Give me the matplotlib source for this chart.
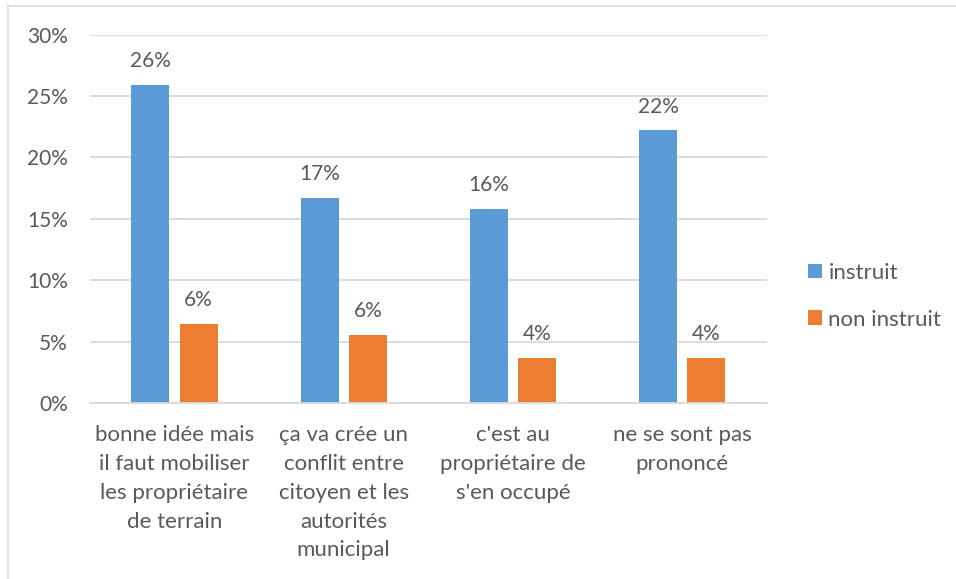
import numpy as np
import matplotlib.pyplot as plt
from matplotlib.lines import Line2D
from matplotlib.ticker import FuncFormatter

# valeurs (en %)
categories = [
    "bonne idée mais\nil faut mobiliser\nles propriétaire\nde terrain",
    "ça va crée un\nconflit entre\ncitoyen et les\nautorités\nmunicipal",
    "c'est au\npropriétaire de\ns'en occupé",
    "ne se sont pas\nprononcé",
]
instruit = [25.9, 16.7, 15.8, 22.2]
non_instruit = [6.45, 5.55, 3.7, 3.7]
labels_instruit = ["26%", "17%", "16%", "22%"]
labels_non_instruit = ["6%", "6%", "4%", "4%"]

plt.rcParams['font.family'] = ['Lato', 'DejaVu Sans']
text_color = '#595959'
blue = '#5B9BD5'
orange = '#ED7D31'
grid_color = '#D9D9D9'

fig = plt.figure(figsize=(9.56, 5.79), dpi=100)
ax = fig.add_axes([0.094, 0.304, 0.708, 0.636])

x = np.arange(len(categories))
w = 0.225
gap = 0.03
b1 = ax.bar(x - w / 2 - gap, instruit, w, color=blue, label='instruit')
b2 = ax.bar(x + w / 2 + gap, non_instruit, w, color=orange, label='non instruit')

for bars, labs in [(b1, labels_instruit), (b2, labels_non_instruit)]:
    for rect, lab in zip(bars, labs):
        ax.annotate(lab, (rect.get_x() + rect.get_width() / 2, rect.get_height()),
                    xytext=(0, 10), textcoords='offset points', ha='center', va='bottom',
                    fontsize=15, color=text_color)

ax.set_xlim(-0.5, len(categories) - 0.5)
ax.set_ylim(0, 30)
ax.set_yticks(np.arange(0, 31, 5))
ax.yaxis.set_major_formatter(FuncFormatter(lambda v, p: f"{v:.0f}%"))
ax.set_xticks(x)
ax.set_xticklabels(categories, linespacing=1.55, fontsize=16)
ax.tick_params(axis='both', length=0, labelcolor=text_color)
ax.tick_params(axis='y', labelsize=15, pad=16)
ax.tick_params(axis='x', pad=16)

ax.grid(axis='y', color=grid_color, linewidth=1.3)
ax.set_axisbelow(True)
for s in ['top', 'right', 'left']:
    ax.spines[s].set_visible(False)
ax.spines['bottom'].set_color(grid_color)
ax.spines['bottom'].set_linewidth(1.3)

leg = fig.legend(handles=[b1, b2], loc='upper left', bbox_to_anchor=(0.845, 0.546),
                 frameon=False, fontsize=16, handlelength=0.63, handleheight=0.63,
                 handletextpad=0.3, labelspacing=1.2, borderaxespad=0, borderpad=0)
for t in leg.get_texts():
    t.set_color(text_color)

# cadre gris autour du graphique
fig.add_artist(Line2D([8 / 956, 8 / 956], [0, 1 - 6 / 579], color='#D9D9D9', lw=1.2,
                      transform=fig.transFigure))
fig.add_artist(Line2D([8 / 956, 1], [1 - 6 / 579, 1 - 6 / 579], color='#D9D9D9', lw=1.2,
                      transform=fig.transFigure))

fig.savefig('out.png', dpi=100)
